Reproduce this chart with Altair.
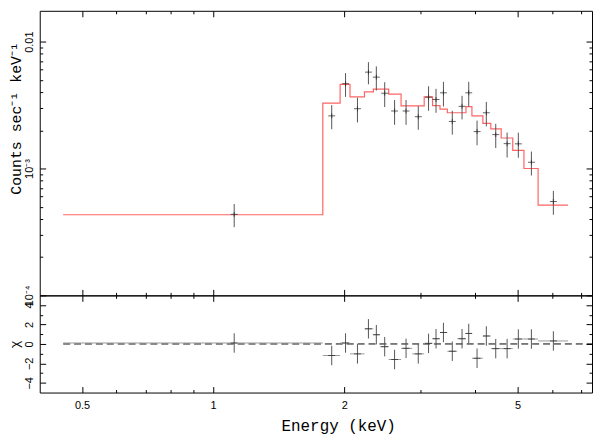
import altair as alt
import pandas as pd

# ---------------- data ----------------
# energy bins (keV): lower edges, upper edges, bin centres
bin_lo = [0.4528, 1.786, 1.957, 2.062, 2.226, 2.333, 2.416, 2.530, 2.701, 2.866,
          3.052, 3.190, 3.318, 3.449, 3.635, 3.806, 3.928, 4.162, 4.340, 4.585,
          4.874, 5.171, 5.573]
bin_hi = [1.786, 1.957, 2.062, 2.226, 2.333, 2.416, 2.530, 2.701, 2.866, 3.052,
          3.190, 3.318, 3.449, 3.635, 3.806, 3.928, 4.162, 4.340, 4.585, 4.874,
          5.171, 5.573, 6.528]
energy = [1.118, 1.872, 2.014, 2.145, 2.273, 2.370, 2.477, 2.610, 2.773, 2.958,
          3.123, 3.249, 3.379, 3.541, 3.728, 3.862, 4.036, 4.239, 4.455, 4.731,
          5.020, 5.379, 6.041]
# counts sec^-1 keV^-1 and 1-sigma errors
counts = [4.35e-4, 2.60e-3, 4.66e-3, 2.96e-3, 5.75e-3, 5.25e-3, 3.92e-3, 2.84e-3,
          2.84e-3, 2.56e-3, 3.65e-3, 3.50e-3, 3.95e-3, 2.35e-3, 3.09e-3, 3.95e-3,
          1.955e-3, 2.75e-3, 1.85e-3, 1.57e-3, 1.565e-3, 1.12e-3, 5.49e-4]
count_err = [0.90e-4, 0.56e-3, 0.99e-3, 0.65e-3, 1.14e-3, 1.13e-3, 0.87e-3, 0.63e-3,
             0.63e-3, 0.54e-3, 0.80e-3, 0.75e-3, 0.87e-3, 0.50e-3, 0.65e-3, 0.87e-3,
             0.43e-3, 0.60e-3, 0.40e-3, 0.35e-3, 0.35e-3, 0.24e-3, 1.17e-4]
# folded model per bin
model = [4.32e-4, 3.28e-3, 4.61e-3, 3.67e-3, 4.02e-3, 4.22e-3, 4.22e-3, 3.86e-3,
         3.12e-3, 3.12e-3, 3.67e-3, 3.13e-3, 2.94e-3, 2.75e-3, 2.75e-3, 3.07e-3,
         2.60e-3, 2.27e-3, 2.05e-3, 1.74e-3, 1.39e-3, 1.00e-3, 5.14e-4]
# residuals (chi)
chi = [0.10, -1.19, 0.10, -1.02, 1.56, 0.95, -0.28, -1.60, -0.45, -1.02, 0.06, 0.54,
       1.18, -0.75, 0.54, 1.08, -1.47, 0.82, -0.48, -0.48, 0.51, 0.51, 0.31]
chi_err = [1.0] * len(chi)

# zero line of the residual panel
zero_start = [0.4528]
zero_end = [7.41]
zero_level = [0.0]

# axis ticks
x_major = [0.5, 1, 2, 5]
x_major_labels = ["0.5", "1", "2", "5"]
x_minor = [0.6, 0.7, 0.8, 0.9, 3, 4, 6, 7]
y_major = [1e-4, 1e-3, 1e-2]
y_major_labels = ["10\u207b\u2074", "10\u207b\u00b3", "0.01"]
y_minor = [2e-4, 3e-4, 4e-4, 5e-4, 6e-4, 7e-4, 8e-4, 9e-4,
           2e-3, 3e-3, 4e-3, 5e-3, 6e-3, 7e-3, 8e-3, 9e-3]
chi_major = [-4, -2, 0, 2, 4]
chi_major_labels = ["\u22124", "\u22122", "0", "2", "4"]
chi_minor = [-3, -1, 1, 3]

# ---------------- tables ----------------
data_df = pd.DataFrame({
    "energy": energy, "lo": bin_lo, "hi": bin_hi, "counts": counts,
    "c_lo": [c - e for c, e in zip(counts, count_err)],
    "c_hi": [c + e for c, e in zip(counts, count_err)],
    "chi": chi,
    "chi_lo": [c - e for c, e in zip(chi, chi_err)],
    "chi_hi": [c + e for c, e in zip(chi, chi_err)],
})
model_df = pd.DataFrame({
    "e": bin_lo + [bin_hi[-1]],
    "m": model + [model[-1]],
    "i": list(range(len(model) + 1)),
})
zero_df = pd.DataFrame({"x0": zero_start, "x1": zero_end, "y": zero_level})

# ---------------- helpers ----------------
LABEL_FONT = "Liberation Sans"
TITLE_FONT = "Liberation Mono"


def label_expr(values, labels):
    parts = []
    for v, l in zip(values, labels):
        tol = abs(v) * 1e-6 + 1e-9
        parts.append(f"abs(datum.value - ({v})) < {tol} ? '{l}'")
    return " : ".join(parts) + " : ''"


def axis(orient, values, size, labels=None, title=None, **kw):
    d = dict(orient=orient, values=values, tickSize={"expr": str(-size)},
             domain=False, grid=False, ticks=True, tickColor="black", tickWidth=1,
             title=title)
    if labels is not None:
        d.update(labels=True, labelExpr=label_expr(values, labels),
                 labelFont=LABEL_FONT, labelFontSize=11, labelColor="black",
                 labelOverlap=False, labelFlush=False)
    else:
        d.update(labels=False)
    if title is not None:
        d.update(titleFont=TITLE_FONT, titleFontSize=16, titleFontWeight="normal",
                 titleColor="black")
    d.update(kw)
    return alt.Axis(**d)


xs = alt.Scale(type="log", domain=[0.4, 7.41], nice=False)
ys = alt.Scale(type="log", domain=[1e-4, 0.0175], nice=False)
ycs = alt.Scale(type="linear", domain=[-5, 5], nice=False, zero=False)

W = 557
H_TOP = 287
H_BOT = 98

# ---------------- top panel ----------------
top_model = alt.Chart(model_df).mark_line(
    interpolate="step-after", color="#ff6464", strokeWidth=1.2
).encode(
    x=alt.X("e:Q", scale=xs, axis=axis("bottom", x_major, 6)),
    y=alt.Y("m:Q", scale=ys, axis=axis(
        "left", y_major, 6, labels=y_major_labels,
        title="Counts sec\u207b\u00b9 keV\u207b\u00b9",
        labelAngle=270, labelAlign="center", labelBaseline="alphabetic",
        labelPadding=13, titleAngle=270, titleAlign="center",
        titleBaseline="alphabetic", titleX=-19, titleY=108, titleFontSize=15)),
    order="i:Q",
)
top_verr = alt.Chart(data_df).mark_rule(color="#555555", strokeWidth=1).encode(
    x=alt.X("energy:Q", scale=xs, axis=axis("bottom", x_minor, 3)),
    y=alt.Y("c_lo:Q", scale=ys, axis=axis("left", y_minor, 3)),
    y2="c_hi:Q",
)
top_hbar = alt.Chart(data_df).mark_tick(
    orient="horizontal", size=7, thickness=1, color="#222222"
).encode(
    x=alt.X("energy:Q", scale=xs, axis=axis("top", x_major, 6)),
    y=alt.Y("counts:Q", scale=ys, axis=axis("right", y_major, 6)),
)
top_vc = alt.Chart(data_df).mark_tick(
    orient="vertical", size=5, thickness=1, color="#222222"
).encode(
    x=alt.X("energy:Q", scale=xs, axis=axis("top", x_minor, 3)),
    y=alt.Y("counts:Q", scale=ys, axis=axis("right", y_minor, 3)),
)
top = alt.layer(top_model, top_verr, top_hbar, top_vc).resolve_axis(
    x="independent", y="independent"
).properties(width=W, height=H_TOP)

# ---------------- residual panel ----------------
bot_zero = alt.Chart(zero_df).mark_rule(
    color="black", strokeDash=[7, 4], strokeWidth=1
).encode(
    x=alt.X("x0:Q", scale=xs, axis=axis(
        "bottom", x_major, 6, labels=x_major_labels, title="Energy (keV)",
        labelBaseline="top", labelPadding=13, titleX=301, titleY=38,
        titleBaseline="alphabetic", titleAlign="center")),
    x2="x1:Q",
    y=alt.Y("y:Q", scale=ycs, axis=axis(
        "left", chi_major, 6, labels=chi_major_labels, title="\u03c7",
        labelAngle=270, labelAlign="center", labelBaseline="alphabetic",
        labelPadding=13, titleAngle=270, titleAlign="center",
        titleBaseline="alphabetic", titleX=-21, titleY=49, titleFontSize=13)),
)
bot_h = alt.Chart(data_df).mark_rule(color="#9a9a9a", strokeWidth=1).encode(
    x=alt.X("lo:Q", scale=xs, axis=axis("bottom", x_minor, 3)),
    x2="hi:Q",
    y=alt.Y("chi:Q", scale=ycs, axis=axis("left", chi_minor, 3)),
)
bot_v = alt.Chart(data_df).mark_rule(color="#555555", strokeWidth=1).encode(
    x=alt.X("energy:Q", scale=xs, axis=axis("top", x_major, 6)),
    y=alt.Y("chi_lo:Q", scale=ycs, axis=axis("right", chi_major, 6)),
    y2="chi_hi:Q",
)
bot_c = alt.Chart(data_df).mark_tick(
    orient="horizontal", size=7, thickness=1, color="#222222"
).encode(
    x=alt.X("energy:Q", scale=xs, axis=axis("top", x_minor, 3)),
    y=alt.Y("chi:Q", scale=ycs, axis=axis("right", chi_minor, 3)),
)
bottom = alt.layer(bot_zero, bot_h, bot_v, bot_c).resolve_axis(
    x="independent", y="independent"
).properties(width=W, height=H_BOT)

chart = alt.vconcat(top, bottom, spacing=0, bounds="flush").properties(
    padding={"left": 0, "top": 0, "right": 0, "bottom": 0},
    background="white",
).configure_view(stroke="black", strokeWidth=1)

chart.save("out.html", embed_options={"renderer": "svg", "actions": False})
